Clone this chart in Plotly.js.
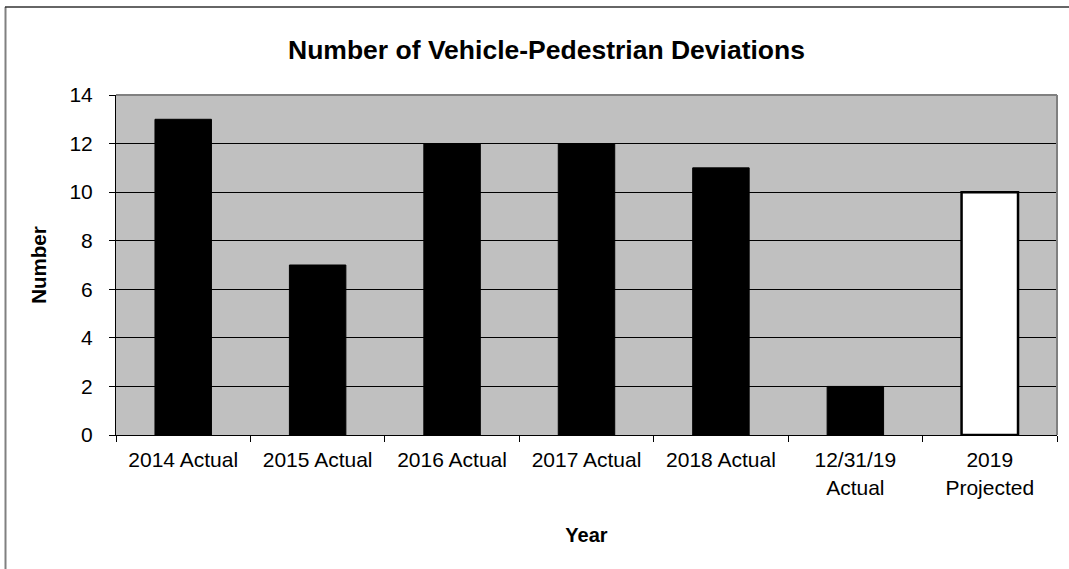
<!DOCTYPE html>
<html>
<head>
<meta charset="utf-8">
<script src="https://cdn.plot.ly/plotly-3.0.1.min.js"></script>
<style>html,body{margin:0;padding:0;background:#fff;}#chart{width:1069px;height:569px;}</style>
</head>
<body>
<div id="chart"></div>
<script>
var categories = ["2014 Actual", "2015 Actual", "2016 Actual", "2017 Actual", "2018 Actual", "12/31/19<br>Actual", "2019<br>Projected"];
var actualCategories = ["2014 Actual", "2015 Actual", "2016 Actual", "2017 Actual", "2018 Actual", "12/31/19<br>Actual"];
var actualValues = [13, 7, 12, 12, 11, 2];
var projectedCategories = ["2019<br>Projected"];
var projectedValues = [10];
var yTicks = [0, 2, 4, 6, 8, 10, 12, 14];

var font = "Liberation Sans, Arial, sans-serif";

var traces = [
  {type: "bar", x: actualCategories, y: actualValues, name: "Actual",
   marker: {color: "#000000", line: {color: "#000000", width: 1}}, hoverinfo: "x+y"},
  {type: "bar", x: projectedCategories, y: projectedValues, name: "Projected",
   marker: {color: "#ffffff", line: {color: "#000000", width: 2.5}}, hoverinfo: "x+y"}
];

var layout = {
  width: 1069, height: 569,
  margin: {l: 116, r: 12, t: 95, b: 134},
  paper_bgcolor: "#ffffff",
  plot_bgcolor: "#c0c0c0",
  showlegend: false,
  barmode: "overlay",
  bargap: 0.58,
  font: {family: font, color: "#000000", size: 21},
  title: {text: "<b>Number of Vehicle-Pedestrian Deviations</b>", font: {family: font, size: 26.5, color: "#000"},
          x: 546.5/1069, xanchor: "center", y: 1 - 50/569, yanchor: "middle", xref: "container", yref: "container"},
  xaxis: {
    type: "category", categoryorder: "array", categoryarray: categories,
    tickson: "boundaries", ticks: "outside", ticklen: 6, tickcolor: "#000", tickwidth: 1,
    showline: true, linecolor: "#000", linewidth: 1, showgrid: false,
    tickfont: {family: font, size: 21, color: "#000"},
    ticklabelstandoff: 6,
    title: {text: "<b>Year</b>", font: {family: font, size: 20, color: "#000"}, standoff: 30},
    automargin: false
  },
  yaxis: {
    range: [0, 14], tickvals: yTicks, ticktext: yTicks.map(String),
    ticks: "outside", ticklen: 6, tickcolor: "#000", tickwidth: 1,
    showline: true, linecolor: "#000", linewidth: 1,
    showgrid: true, gridcolor: "#000", gridwidth: 1, zeroline: false,
    tickfont: {family: font, size: 21, color: "#000"},
    ticklabelstandoff: 12,
    title: {text: "<b>Number</b>", font: {family: font, size: 20.5, color: "#000"}, standoff: 17},
    automargin: false
  },
  shapes: [
    {type: "line", xref: "paper", yref: "paper", x0: 0, x1: 1, y0: 1, y1: 1, line: {color: "#808080", width: 2}},
    {type: "line", xref: "paper", yref: "paper", x0: 1, x1: 1, y0: 0, y1: 1, line: {color: "#808080", width: 2}},
    {type: "line", xref: "paper", yref: "paper", x0: (5.5-116)/941, x1: (5.5-116)/941, y0: -134/340, y1: 1 + 88/340, line: {color: "#808080", width: 2}},
    {type: "line", xref: "paper", yref: "paper", x0: (5-116)/941, x1: 1 + 12/941, y0: 1 + 88/340, y1: 1 + 88/340, line: {color: "#333333", width: 1.5}}
  ]
};

Plotly.newPlot("chart", traces, layout, {displayModeBar: false, staticPlot: false});
</script>
</body>
</html>
